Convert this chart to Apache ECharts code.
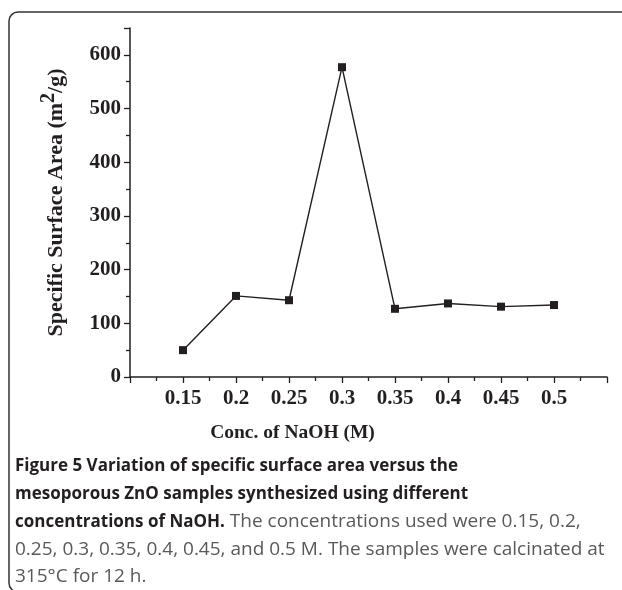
<!DOCTYPE html>
<html>
<head>
<meta charset="utf-8">
<script src="https://cdn.jsdelivr.net/npm/echarts@6/dist/echarts.min.js"></script>
<style>
  html, body { margin: 0; padding: 0; background: #fff; }
  #chart { width: 622px; height: 590px; }
</style>
</head>
<body>
<div id="chart"></div>
<script>
// NaOH concentrations (M) and measured specific surface area (m2/g)
const concentrations = [0.15, 0.2, 0.25, 0.3, 0.35, 0.4, 0.45, 0.5]
const surfaceArea = [50, 151, 143, 577, 127, 137, 131, 134]

const captionLines = [
    [{ b: "Figure 5 Variation of specific surface area versus the" }],
    [{ b: "mesoporous ZnO samples synthesized using different" }],
    [{ b: "concentrations of NaOH." }, { n: " The concentrations used were 0.15, 0.2," }],
    [{ n: "0.25, 0.3, 0.35, 0.4, 0.45, and 0.5 M. The samples were calcinated at" }],
    [{ n: "315°C for 12 h." }],
]

const serif = "Liberation Serif"
const sans = "Open Sans"

var myChart = echarts.init(document.getElementById("chart"))

// caption below the plot
const caption = captionLines.map((line, i) => ({
    type: "text",
    left: 15,
    top: 458 + i * 27.2,
    style: {
        text: line.map((p) => (p.b ? "{b|" + p.b + "}" : "{n|" + p.n + "}")).join(""),
        rich: {
            b: { fontFamily: sans, fontWeight: "bold", fontSize: 17, fill: "#231f20" },
            n: { fontFamily: sans, fontSize: 19, fill: "#58595b" },
        },
    },
}))

myChart.setOption({
    animation: false,
    grid: {
        left: 130,
        right: 15,
        top: 28,
        bottom: 213,
    },
    xAxis: {
        type: "value",
        min: 0.1,
        max: 0.55,
        interval: 0.05,
        name: "Conc. of NaOH (M)",
        nameLocation: "middle",
        nameGap: 46,
        nameTextStyle: {
            fontFamily: serif,
            fontWeight: "bold",
            fontSize: 19.5,
            color: "#231f20",
            padding: [0, 152, 0, 0],
        },
        splitLine: { show: false },
        axisLine: { lineStyle: { color: "#231f20", width: 1.5 } },
        axisTick: { length: 6, lineStyle: { color: "#231f20", width: 1.3 } },
        minorTick: { show: true, splitNumber: 2, length: 4, lineStyle: { color: "#231f20", width: 1.3 } },
        axisLabel: {
            margin: 11,
            fontFamily: serif,
            fontWeight: "bold",
            fontSize: 21,
            color: "#231f20",
            formatter: (v) => (v < 0.12 || v > 0.52 ? "" : String(Math.round(v * 100) / 100)),
        },
    },
    yAxis: {
        type: "value",
        min: 0,
        max: 650,
        interval: 100,
        name: "{t|Specific Surface Area (m}{s|2}{t|/g)}",
        nameLocation: "middle",
        nameGap: 57,
        nameTextStyle: {
            rich: {
                t: { fontFamily: serif, fontWeight: "bold", fontSize: 22, color: "#231f20" },
                s: { fontFamily: serif, fontWeight: "bold", fontSize: 20, color: "#231f20", padding: [0, 0, 14, 0] },
            },
        },
        splitLine: { show: false },
        axisLine: { lineStyle: { color: "#231f20", width: 1.5 } },
        axisTick: { length: 6, lineStyle: { color: "#231f20", width: 1.3 } },
        minorTick: { show: true, splitNumber: 2, length: 4, lineStyle: { color: "#231f20", width: 1.3 } },
        axisLabel: {
            margin: 9,
            fontFamily: serif,
            fontWeight: "bold",
            fontSize: 21,
            color: "#231f20",
            formatter: (v) => (v > 600 ? "" : String(v)),
        },
    },
    series: [
        {
            type: "line",
            data: concentrations.map((c, i) => [c, surfaceArea[i]]),
            symbol: "rect",
            symbolSize: 8,
            lineStyle: { color: "#231f20", width: 1.4 },
            itemStyle: { color: "#231f20" },
        },
    ],
    graphic: [
        // open frame round the figure
        {
            type: "rect",
            shape: { x: 9, y: 12, width: 700, height: 580, r: 9 },
            style: { fill: "none", stroke: "#333", lineWidth: 1.5 },
            silent: true,
        },
        ...caption,
    ],
})
</script>
</body>
</html>
